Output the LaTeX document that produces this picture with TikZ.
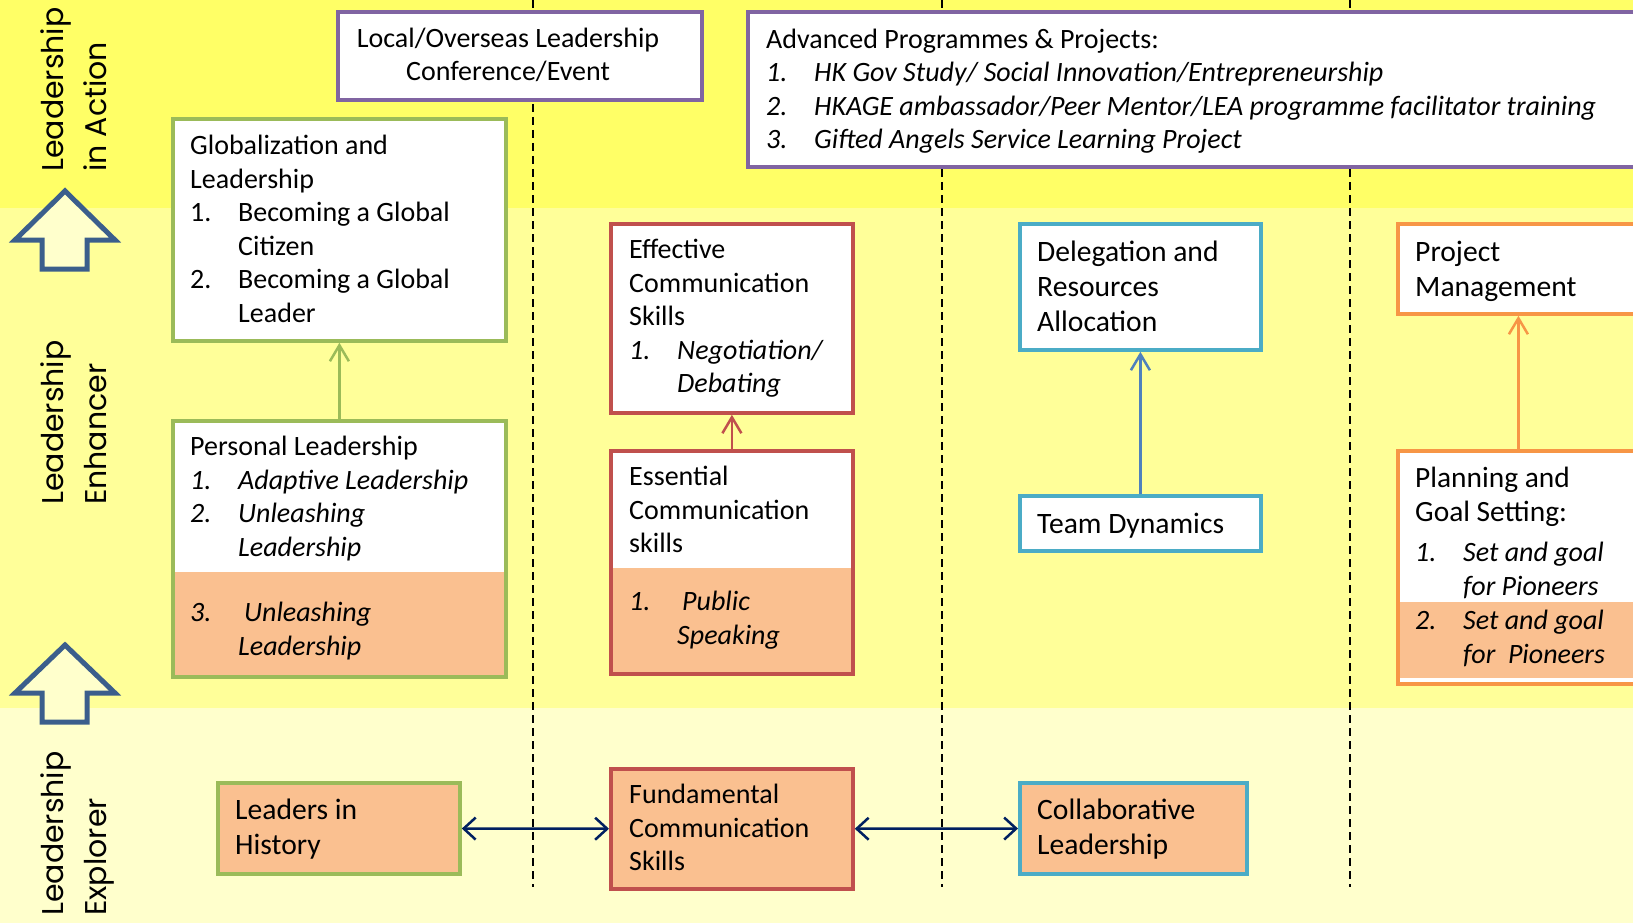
\documentclass[tikz,border=0pt]{standalone}
\usepackage{fontspec}
\setmainfont{Carlito}
\newfontfamily\sidefont{Poppins}
\usetikzlibrary{arrows.meta}

\definecolor{bandtop}{HTML}{FFFF66}
\definecolor{bandmid}{HTML}{FFFF99}
\definecolor{bandlow}{HTML}{FFFFCC}
\definecolor{purp}{HTML}{8064A2}
\definecolor{grn}{HTML}{9BBB59}
\definecolor{rd}{HTML}{C0504D}
\definecolor{aqua}{HTML}{4BACC6}
\definecolor{orng}{HTML}{F79646}
\definecolor{peach}{HTML}{FAC090}
\definecolor{navy}{HTML}{002060}
\definecolor{linkblue}{HTML}{4F81BD}
\definecolor{arrowblue}{HTML}{3B5E8C}

% list item with hanging indent
\newcommand{\li}[2]{\makebox[48pt][l]{#1}#2}
\newcommand{\lc}[1]{\hspace*{48pt}#1}

\begin{document}
\begin{tikzpicture} [x=1pt, y=-1pt, box/.style={rectangle, draw=#1, line width=3.8pt, fill=white, anchor=north west, inner sep=0pt}, txt/.style={anchor=north west, inner sep=0pt, yshift=-2pt, align=left, font=\fontsize{28}{33.5}\selectfont}, txtbig/.style={txt, font=\fontsize{29.6}{35}\selectfont}, peach part/.style 2 args={path picture={\fill[peach] ([yshift=#1]path picture bounding box.south west) rectangle ([yshift=#2]path picture bounding box.south east);}}, side/.style={rotate=90, anchor=north west, inner sep=0pt, align=left, font=\sidefont\fontsize{30}{43}\selectfont}, link/.style={line width=2.5pt, -{Straight Barb[length=16pt,width=19pt]}}, both/.style={line width=2.5pt, draw=navy, {Straight Barb[length=12pt,width=22pt]}-{Straight Barb[length=12pt,width=22pt]}}, bigarrow/.style={draw=arrowblue, fill=bandlow, line width=5pt, line join=miter}, divider/.style={line width=1.5pt, dash pattern=on 8pt off 5pt}]
\clip (0,0) rectangle (1633,923);
% bands
\fill[bandtop] (0,0) rectangle (1633,208);
\fill[bandmid] (0,208) rectangle (1633,708);
\fill[bandlow] (0,708) rectangle (1633,923);
\foreach \x in {533,942,1350}
	\draw[divider] (\x,0) -- (\x,887);

% level labels
\node[side] (action) at (33,172) {\strut Leadership\\in Action};
\node[side] (enhancer) at (33,505) {\strut Leadership\\Enhancer};
\node[side] (explorer) at (33,916) {\strut Leadership\\Explorer};
\draw[bigarrow] (42,269) -- (42,240) -- (15,240) -- (65,191) -- (115,240) -- (87,240) -- (87,269) -- cycle;
\draw[bigarrow] (42,722) -- (42,693) -- (15,693) -- (65,645) -- (115,693) -- (87,693) -- (87,722) -- cycle;

% leadership in action
\node[box=purp, minimum width=364pt, minimum height=88pt] (conference) at (336,10) {};
\node[txt, anchor=center, align=center, yshift=2pt] (conference text) at (508,55) {Local/Overseas Leadership\\Conference/Event};
\node[box=purp, minimum width=910pt, minimum height=155pt] (advanced) at (746,10) {};
\node[txt] (advanced text) at (766,22.5) {\strut Advanced Programmes \& Projects:\\
	\textit{\li{1.}{HK Gov Study/ Social Innovation/Entrepreneurship}}\\
	\textit{\li{2.}{HKAGE ambassador/Peer Mentor/LEA programme facilitator training}}\\
	\textit{\li{3.}{Gifted Angels Service Learning Project}}};

% column 1
\node[box=grn, minimum width=333pt, minimum height=222pt] (global) at (171,117) {};
\node[txt] (global text) at (190,129) {\strut Globalization and\\Leadership\\
	\li{1.}{Becoming a Global}\\ \lc{Citizen}\\
	\li{2.}{Becoming a Global}\\ \lc{Leader}};
\node[box=grn, minimum width=333pt, minimum height=256pt, peach part={0pt}{105pt}] (personal) at (171,419) {};
\node[txt] (personal text) at (190,430) {\strut Personal Leadership\\
	\textit{\li{1.}{Adaptive Leadership}}\\
	\textit{\li{2.}{Unleashing}}\\ \textit{\lc{Leadership}}};
\node[txt] (personal extra) at (190,596) {\strut\textit{\li{3.}{\hspace{6pt}Unleashing}}\\ \textit{\lc{Leadership}}};
\node[box=grn, minimum width=242pt, minimum height=91pt, fill=peach] (history) at (216,781) {};
\node[txtbig] (history text) at (235,793) {\strut Leaders in\\History};

% column 2
\node[box=rd, minimum width=242pt, minimum height=189pt] (effective) at (609,222) {};
\node[txt] (effective text) at (629,233) {\strut Effective\\Communication\\Skills\\
	\textit{\li{1.}{Negotiation/}}\\ \textit{\lc{Debating}}};
\node[box=rd, minimum width=242pt, minimum height=223pt, peach part={0pt}{106pt}] (essential) at (609,449) {};
\node[txt] (essential text) at (629,460) {\strut Essential\\Communication\\skills};
\node[txt] (essential extra) at (629,585) {\strut\textit{\li{1.}{\hspace{5pt}Public}}\\ \textit{\lc{Speaking}}};
\node[box=rd, minimum width=242pt, minimum height=120pt, fill=peach] (fundamental) at (609,767) {};
\node[txt] (fundamental text) at (629,778) {\strut Fundamental\\Communication\\Skills};

% column 3
\node[box=aqua, minimum width=241pt, minimum height=126pt] (delegation) at (1018,222) {};
\node[txtbig] (delegation text) at (1037,235) {\strut Delegation and\\Resources\\Allocation};
\node[box=aqua, minimum width=241pt, minimum height=55pt] (team) at (1018,494) {};
\node[txtbig] (team text) at (1037,507) {\strut Team Dynamics};
\node[box=aqua, minimum width=227pt, minimum height=91pt, fill=peach] (collab) at (1018,781) {};
\node[txtbig] (collab text) at (1037,793) {\strut Collaborative\\Leadership};

% column 4
\node[box=orng, minimum width=241pt, minimum height=90pt] (project) at (1396,222) {};
\node[txtbig] (project text) at (1415,235) {\strut Project\\Management};
\node[box=orng, minimum width=241pt, minimum height=233pt, peach part={6pt}{82pt}] (planning) at (1396,449) {};
\node[txt, font=\fontsize{29.4}{34.4}\selectfont] (planning text) at (1415,461) {\strut Planning and\\Goal Setting:\\[5pt]
	\fontsize{28}{33.5}\selectfont\textit{\li{1.}{Set and goal}}\\ \fontsize{28}{33.5}\selectfont\textit{\lc{for Pioneers}}};
\node[txt] (planning extra) at (1415,604) {\strut\textit{\li{2.}{Set and goal}}\\ \textit{\lc{for\ \ Pioneers}}};

% draw edges
\draw[link, grn] (personal) -- (global);
\draw[link, rd] (essential) -- (effective);
\draw[link, linkblue] (team) -- (delegation);
\draw[link, orng] (planning) -- (project);
\draw[both] (history) -- (fundamental);
\draw[both] (fundamental) -- (collab);
\end{tikzpicture}
\end{document}
